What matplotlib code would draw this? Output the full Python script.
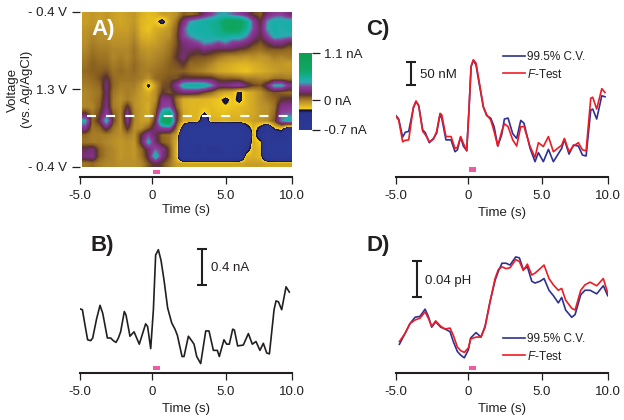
import matplotlib
matplotlib.use("Agg")
import matplotlib.pyplot as plt
import numpy as np
from matplotlib.colors import LinearSegmentedColormap, Normalize

plt.rcParams["font.family"] = ["Liberation Sans", "DejaVu Sans"]
plt.rcParams["mathtext.fontset"] = "custom"
plt.rcParams["mathtext.it"] = "Liberation Sans:italic"
plt.rcParams["mathtext.rm"] = "Liberation Sans"

FIG_W = 624
FIG_H = 420
INK = "#231F20"
BLUE = "#2E3192"
RED = "#ED1C24"
PINK = "#EE5AA5"

# the time axis ticks of the original are not evenly spaced, so keep them as drawn
tick_pos = [-5, 0.13, 5.32, 10]
tick_labels = ["-5.0", "0", "5.0", "10.0"]
stim_start = 0.15
stim_end = 0.70

# panel A, current in hundredths of a nA, 22 rows x 30 columns
color_plot = [
    [-8, -6, -8, -6, -8, -10, -8, -6, -12, -16, -14, -8, -8, -4, 6, 4, 8, 20, 30, 40, 42, 35, 30, 22, 10, 6, 20, 28, 30, 20],
    [-8, -6, -8, -6, -8, -10, -8, -6, -14, -16, -18, -30, -10, 2, 22, 40, 48, 52, 55, 60, 75, 80, 75, 60, 30, 12, 40, 50, 50, 48],
    [-6, -4, -6, -4, -8, -8, -8, -4, -14, -18, -12, -10, -6, 6, 30, 50, 50, 50, 55, 58, 72, 85, 75, 55, 30, 16, 42, 52, 45, 50],
    [-4, -2, -4, -4, -6, -6, -6, -2, -12, -14, -10, -6, -4, 8, 30, 40, 48, 50, 50, 55, 55, 50, 52, 40, 22, 14, 30, 48, 45, 42],
    [-4, 0, -2, -2, -4, -4, -4, 0, -8, -10, -8, -4, 0, 8, 20, 25, 30, 40, 38, 30, 38, 28, 26, 20, 12, 8, 14, 22, 22, 14],
    [-2, 2, 0, 0, -2, -2, -2, 2, -4, -6, -4, -2, 2, 10, 18, 18, 14, 20, 16, 14, 14, 14, 10, 8, 4, 2, 6, 6, 6, 4],
    [0, 4, 2, 2, -2, 0, -2, 2, -2, -4, -2, 0, 4, 12, 20, 10, 8, 8, 6, 2, -2, -4, -4, -6, -4, -6, -4, 0, -2, 0],
    [2, 6, 4, 4, 0, 2, 0, 4, 0, -2, 0, 2, 6, 8, 12, 4, 4, 2, -2, -8, -10, -12, -14, -14, -12, -10, -8, -6, -6, -8],
    [4, 6, 6, 8, 2, 4, 2, 4, 0, 0, 2, 4, 6, 6, 6, 2, 0, -2, -6, -10, -12, -14, -16, -18, -14, -12, -10, -8, -6, -6],
    [2, 4, 8, 14, 4, 2, 2, 2, 0, -4, 4, 6, 8, 8, 14, 14, 14, 14, 14, 8, 6, 6, 4, 0, 0, -2, -2, 2, 2, 0],
    [0, 2, 4, 20, 4, 0, 0, 0, -6, -28, -6, 8, 10, 26, 50, 54, 55, 52, 40, 22, 22, 26, 30, 18, 10, 8, 20, 45, 45, 26],
    [-2, 0, 2, 18, 2, -2, 0, -2, -8, -12, -4, 12, 8, 14, 20, 20, 18, 10, 4, -6, -10, -14, -27, -14, -10, -4, 4, 8, 6, 4],
    [-2, 0, 4, 20, 0, -4, 0, -4, -8, -10, -4, 25, 24, 2, -12, -14, -14, -14, -16, -18, -27, -18, -27, -14, -10, -4, 0, 4, 12, 14],
    [-2, -2, 6, 22, 0, -2, 14, -4, -8, -12, 2, 30, 32, 6, -12, -14, -14, -16, -16, -18, -20, -18, -16, -14, -10, -6, -4, 2, 24, 26],
    [14, 2, 10, 30, 6, -2, 24, -2, -8, -10, 6, 55, 70, 16, -10, -14, -14, -24, -14, -16, -16, -14, -14, -12, -10, -6, -4, 4, 32, 34],
    [45, 4, 14, 48, 10, -4, 24, -2, -8, -8, 14, 75, 90, 14, -12, -12, -14, -45, -12, -12, -14, -12, -12, -12, -8, -6, -4, 8, 38, 50],
    [25, 2, 4, 18, 2, -4, 14, -4, -4, 6, 20, 30, 32, 4, -35, -70, -70, -70, -70, -70, -70, -70, -70, -35, -14, -30, -50, -20, -14, -35],
    [4, 0, 0, 0, -2, -4, 0, -4, 14, 30, 16, 4, 2, -8, -60, -70, -70, -70, -70, -70, -70, -70, -70, -70, -14, -40, -70, -50, -40, -70],
    [2, 0, 0, -2, -4, -6, -4, -6, 16, 45, 18, 6, 2, -12, -70, -70, -70, -70, -70, -70, -70, -70, -70, -50, -12, -20, -70, -70, -70, -70],
    [16, 20, 6, 0, -2, -6, -4, -6, 4, 18, 34, 24, 8, -14, -65, -70, -35, -70, -35, -35, -70, -70, -60, -35, -12, -16, -70, -70, -70, -70],
    [20, 24, 6, 0, -2, -6, -4, -6, 2, 16, 52, 22, 8, -14, -65, -70, -70, -70, -70, -70, -70, -70, -60, -14, -12, -16, -60, -70, -70, -70],
    [2, 4, 0, -2, -2, -4, -4, -4, -2, 8, 14, 10, 2, -8, -10, -10, -10, -10, -10, -10, -10, -10, -10, -8, -8, -8, -10, -10, -10, -10],
]
cmap_values = [-0.7, -0.30, -0.25, -0.225, -0.215, -0.12, -0.03, 0.06, 0.12, 0.20, 0.30, 0.42, 0.50, 0.68, 1.1]
cmap_colors = ["#2B3A96", "#2B3590", "#14143C", "#14143C", "#F8D21C", "#D8AE25", "#B58C2A", "#8A6020",
               "#5A3530", "#7B2E7E", "#8E3C98", "#2FA8B0", "#17B0A8", "#10A868", "#0E9E50"]

# panel B, current in nA
time_b = [-5.00, -4.83, -4.65, -4.46, -4.24, -4.10, -3.82, -3.58, -3.39, -3.06, -2.83, -2.64, -2.45, -2.28, -2.12, -1.86,
          -1.74, -1.46, -1.17, -0.80, -0.35, -0.21, 0.01, 0.20, 0.36, 0.55, 0.74, 0.95, 1.21, 1.50, 1.73, 1.90,
          2.23, 2.37, 2.68, 2.91, 3.08, 3.27, 3.55, 3.91, 4.14, 4.45, 4.73, 4.87, 5.20, 5.39, 5.58, 5.82,
          5.94, 6.17, 6.57, 6.93, 7.21, 7.47, 7.75, 7.99, 8.23, 8.42, 8.75, 8.89, 9.06, 9.29, 9.60, 9.83]
current_b = [0.39, 0.38, 0.21, 0.04, 0.03, 0.06, 0.28, 0.43, 0.34, 0.06, 0.06, 0.03, 0.01, 0.06, 0.13, 0.36,
             0.32, 0.08, 0.13, -0.01, 0.22, 0.19, -0.06, 0.38, 1.00, 1.06, 0.94, 0.72, 0.40, 0.23, 0.16, 0.09,
             -0.15, -0.15, 0.08, 0.03, -0.01, -0.15, -0.23, 0.14, 0.14, -0.08, -0.08, -0.15, 0.04, -0.01, -0.01, 0.16,
             0.15, -0.03, -0.02, 0.11, -0.01, 0.02, -0.08, 0.00, -0.11, -0.12, 0.38, 0.48, 0.47, 0.38, 0.64, 0.58]

# panel C, dopamine in nM
time_c = [-5.00, -4.81, -4.53, -4.34, -4.10, -3.77, -3.58, -3.39, -3.11, -2.92, -2.64, -2.35, -2.12, -1.88, -1.76, -1.46,
          -1.10, -0.82, -0.65, -0.42, -0.23, 0.01, 0.17, 0.32, 0.48, 0.67, 0.91, 1.19, 1.43, 1.71, 1.95, 2.21,
          2.49, 2.68, 2.94, 3.27, 3.55, 3.84, 4.07, 4.50, 4.85, 5.09, 5.44, 5.80, 6.15, 6.74, 6.93, 7.26,
          7.57, 7.92, 8.21, 8.47, 8.80, 8.94, 9.22, 9.58, 9.81]
nm_cv = [44, 37, -1, 9, 11, 60, 74, 65, 14, 8, -13, -4, 7, 47, 39, -7,
         -7, -32, -28, -1, -20, -30, 56, 148, 161, 151, 109, 62, 44, 39, 21, -20,
         4, 37, 39, 6, -4, 34, 28, -25, -53, -34, -53, -27, -53, -25, -6, -37,
         -18, -20, -39, -41, 56, 58, 37, 86, 84]
nm_ftest = [42, 35, -11, -8, -7, 62, 75, 65, 11, 4, -11, -6, 11, 49, 46, 0,
            0, -25, -23, 0, -14, -30, 56, 148, 162, 155, 113, 63, 46, 35, 11, -20,
            11, 27, 21, -7, -20, 21, 21, -21, -44, -13, -21, 0, -32, -18, -4, -32,
            -20, -13, -28, -30, 81, 83, 58, 101, 93]

# panel D, pH change
time_d = [-4.76, -4.36, -4.01, -3.65, -3.30, -2.94, -2.71, -2.47, -2.19, -1.83, -1.53, -1.17, -0.94, -0.65, -0.42, -0.16,
          0.13, 0.29, 0.67, 1.02, 1.31, 1.66, 2.02, 2.25, 2.51, 2.80, 3.08, 3.48, 3.74, 4.02, 4.31, 4.62,
          4.85, 5.21, 5.49, 5.84, 6.15, 6.50, 6.74, 7.02, 7.45, 7.69, 8.09, 8.39, 8.75, 9.22, 9.69, 10.00]
ph_cv = [-0.027, -0.015, -0.004, 0.003, 0.004, 0.012, 0.004, -0.008, -0.002, -0.008, -0.010, -0.013, -0.024, -0.035, -0.039, -0.042,
         -0.033, -0.020, -0.014, -0.019, -0.007, 0.020, 0.044, 0.054, 0.063, 0.063, 0.061, 0.070, 0.069, 0.056, 0.059, 0.043,
         0.041, 0.043, 0.046, 0.033, 0.027, 0.019, 0.025, 0.011, 0.003, 0.006, 0.028, 0.033, 0.033, 0.029, 0.038, 0.027]
ph_ftest = [-0.024, -0.015, -0.004, 0.000, 0.002, 0.009, 0.002, -0.007, -0.001, -0.007, -0.010, -0.009, -0.017, -0.030, -0.034, -0.036,
            -0.031, -0.021, -0.019, -0.019, -0.008, 0.020, 0.046, 0.056, 0.059, 0.057, 0.058, 0.067, 0.065, 0.055, 0.062, 0.050,
            0.052, 0.057, 0.061, 0.046, 0.039, 0.033, 0.035, 0.022, 0.013, 0.011, 0.033, 0.039, 0.042, 0.038, 0.046, 0.030]

series_labels = ["99.5% C.V.", "$\\mathit{F}$-Test"]


def add_panel(fig, left, top, right, bottom):
    # rectangle given in pixels from the top left of the picture
    return fig.add_axes([left / FIG_W, 1 - bottom / FIG_H, (right - left) / FIG_W, (bottom - top) / FIG_H])


def style_time_axis(ax):
    ax.set_xlim(-5, 10)
    for side in ["top", "left", "right"]:
        ax.spines[side].set_visible(False)
    ax.spines["bottom"].set_linewidth(1.5)
    ax.spines["bottom"].set_color(INK)
    ax.set_xticks(tick_pos, tick_labels)
    ax.tick_params(axis="x", length=5, width=0.9, color=INK, labelsize=9.5, labelcolor=INK, pad=4.5)
    ax.set_xlabel("Time (s)", fontsize=9.5, color=INK, labelpad=3)


def hide_y(ax):
    ax.set_yticks([])
    ax.patch.set_visible(False)


def add_stimulus(ax, y, height):
    ax.barh(y, stim_end - stim_start, height=height, left=stim_start, color=PINK, clip_on=False)


def add_scale_bar(ax, t, low, high, text, text_t, text_y):
    ax.errorbar([t], [(low + high) / 2], yerr=[(high - low) / 2], color=INK, elinewidth=1.5,
                capsize=3.6, capthick=1.5)
    ax.text(text_t, text_y, text, fontsize=9.5, color=INK, va="center", ha="left")


def add_legend(ax, x_frac, y_frac):
    ax.legend(loc="upper left", bbox_to_anchor=(x_frac, y_frac), frameon=False, fontsize=8.5, labelcolor=INK,
              handlelength=1.85, handletextpad=0.25, labelspacing=0.35, borderpad=0, borderaxespad=0)


fig = plt.figure(figsize=(FIG_W / 100, FIG_H / 100), dpi=100, facecolor="white")

# A) color plot
cmap_pos = [(v + 0.7) / 1.8 for v in cmap_values]
voltammetry_cmap = LinearSegmentedColormap.from_list("fscv", list(zip(cmap_pos, cmap_colors)), N=512)
norm = Normalize(-0.7, 1.1)

ax_a = add_panel(fig, 80, 12, 291.7, 167)
ax_a.imshow(np.array(color_plot) / 100, cmap=voltammetry_cmap, norm=norm, aspect="auto",
            interpolation="bilinear", extent=[-4.85, 10, 1, 0])
ax_a.plot([-4.48, 10], [0.673, 0.673], color="white", lw=1.5, dashes=(4.3, 4.9))
add_stimulus(ax_a, 1.03, 0.025)
style_time_axis(ax_a)
ax_a.xaxis.labelpad = 1
ax_a.set_ylim(1, 0)
ax_a.spines["bottom"].set_position(("outward", 7.2))
ax_a.set_yticks([0, 0.5, 1], ["- 0.4 V", "1.3 V", "- 0.4 V"])
ax_a.tick_params(axis="y", length=5.5, width=0.9, color=INK, labelsize=9.5, labelcolor=INK, pad=3.5)
ax_a.set_ylabel("Voltage\n(vs. Ag/AgCl)", fontsize=9.5, color=INK, linespacing=1.25)
ax_a.yaxis.set_label_coords(-0.222, 0.5)

ax_bar = add_panel(fig, 299, 53, 312, 130)
ax_bar.imshow(np.linspace(1.1, -0.7, 256).reshape(-1, 1), cmap=voltammetry_cmap, norm=norm, aspect="auto",
              extent=[0, 1, -0.7, 1.1])
ax_bar.set_xticks([])
ax_bar.yaxis.tick_right()
ax_bar.set_yticks([1.1, 0, -0.7], ["1.1 nA", "0 nA", "-0.7 nA"])
ax_bar.tick_params(axis="y", length=6, width=0.9, color=INK, labelsize=9.5, labelcolor=INK, pad=3)
for spine in ax_bar.spines.values():
    spine.set_visible(False)

# B) current trace
ax_b = add_panel(fig, 80, 225, 291.7, 373.3)
ax_b.plot(time_b, current_b, color=INK, lw=1.2)
add_stimulus(ax_b, -0.279, 0.045)
add_scale_bar(ax_b, 3.62, 0.664, 1.064, "0.4 nA", 4.26, 0.85)
style_time_axis(ax_b)
ax_b.set_ylim(-0.34, 1.34)
hide_y(ax_b)

# C) dopamine
ax_c = add_panel(fig, 396, 20, 607.7, 177.3)
ax_c.plot(time_c, nm_cv, color=BLUE, lw=1.2, label=series_labels[0])
ax_c.plot(time_c, nm_ftest, color=RED, lw=1.2, label=series_labels[1])
add_stimulus(ax_c, -69, 10)
add_scale_bar(ax_c, -3.94, 108, 158, "50 nM", -3.3, 129)
style_time_axis(ax_c)
ax_c.set_ylim(-86, 246)
hide_y(ax_c)
add_legend(ax_c, 0.504, 0.80)

# D) pH
ax_d = add_panel(fig, 396, 220, 607.7, 373.3)
ax_d.plot(time_d, ph_cv, color=BLUE, lw=1.2, label=series_labels[0])
ax_d.plot(time_d, ph_ftest, color=RED, lw=1.2, label=series_labels[1])
add_stimulus(ax_d, -0.0533, 0.005)
add_scale_bar(ax_d, -3.54, 0.0259, 0.0659, "0.04 pH", -2.94, 0.0433)
style_time_axis(ax_d)
ax_d.set_ylim(-0.0592, 0.111)
hide_y(ax_d)
add_legend(ax_d, 0.504, 0.26)

# panel letters
fig.text(91 / FIG_W, 1 - 30 / FIG_H, "A)", color="white", fontsize=16, fontweight="bold", va="center")
fig.text(91 / FIG_W, 1 - 245 / FIG_H, "B)", color=INK, fontsize=16, fontweight="bold", va="center")
fig.text(366 / FIG_W, 1 - 29 / FIG_H, "C)", color=INK, fontsize=16, fontweight="bold", va="center")
fig.text(366 / FIG_W, 1 - 245 / FIG_H, "D)", color=INK, fontsize=16, fontweight="bold", va="center")

fig.savefig("out.png", dpi=100, facecolor="white")
plt.close(fig)
